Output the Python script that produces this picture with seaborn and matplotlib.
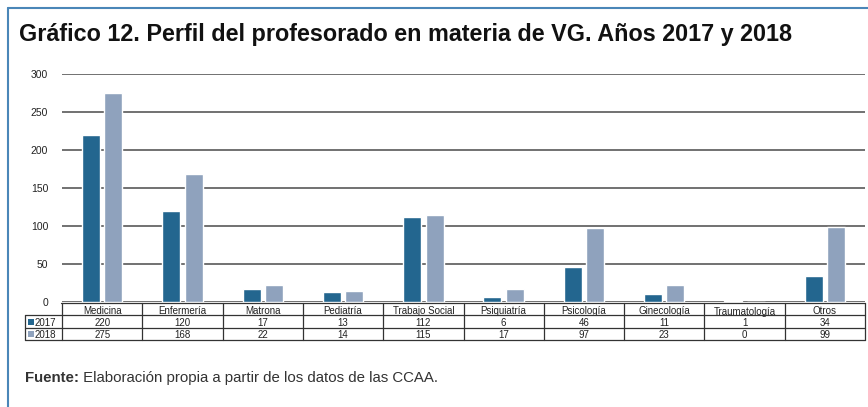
import numpy as np
import pandas as pd
import seaborn as sns
import matplotlib.pyplot as plt
from matplotlib.lines import Line2D
from matplotlib.patches import Rectangle
import matplotlib.transforms as mtransforms

# Data
categorias = ["Medicina", "Enfermería", "Matrona", "Pediatría", "Trabajo Social",
              "Psiquiatría", "Psicología", "Ginecología", "Traumatología", "Otros"]
valores_2017 = [220, 120, 17, 13, 112, 6, 46, 11, 1, 34]
valores_2018 = [275, 168, 22, 14, 115, 17, 97, 23, 0, 99]
anios = ["2017", "2018"]
colores = ["#23668f", "#8fa2bd"]

df = pd.DataFrame({
    "Categoria": categorias * 2,
    "Valor": valores_2017 + valores_2018,
    "Anio": [anios[0]] * len(categorias) + [anios[1]] * len(categorias),
})

sns.set_style("white")
plt.rcParams['font.family'] = ['Liberation Sans', 'DejaVu Sans']

W, H = 868, 407
fig = plt.figure(figsize=(W / 100, H / 100), dpi=100)

def fx(px):
    return px / W

def fy(py):
    return 1 - py / H

# plot area in pixel terms of the reference
ax = fig.add_axes([fx(62), fy(302), fx(865) - fx(62), fy(74) - fy(302)])

sns.barplot(data=df, x="Categoria", y="Valor", hue="Anio", order=categorias,
            hue_order=anios, palette=colores, width=0.56, gap=0.2,
            saturation=1, legend=False, ax=ax)

ax.set_xlim(-0.5, len(categorias) - 0.5)
ax.set_ylim(0, 300)
ax.set_yticks(np.arange(0, 301, 50))
ax.yaxis.grid(True, color="#666666", linewidth=1.3)
ax.set_axisbelow(True)
for s in ax.spines.values():
    s.set_visible(False)
ax.tick_params(axis="y", length=0, pad=10, labelsize=7.5, labelcolor="#222222")
ax.tick_params(axis="x", length=0, labelbottom=False)
ax.set_xlabel("")
ax.set_ylabel("")

# table under the bars: x in data units, y in figure units
tr = mtransforms.blended_transform_factory(ax.transData, fig.transFigure)
filas = [303, 315, 328, 340]
lc = "#333333"
fs_tab = 7.0
n = len(categorias)

# horizontal lines
fig.add_artist(Line2D([fx(61), fx(865)], [fy(filas[0])] * 2, color=lc, lw=0.9))
for yy in filas[1:]:
    fig.add_artist(Line2D([fx(25), fx(865)], [fy(yy)] * 2, color=lc, lw=0.9))
# vertical lines
for i in range(n + 1):
    ax.add_artist(Line2D([i - 0.5, i - 0.5], [fy(filas[0]), fy(filas[3])],
                         transform=tr, color=lc, lw=0.9, clip_on=False))
fig.add_artist(Line2D([fx(25), fx(25)], [fy(filas[1]), fy(filas[3])], color=lc, lw=0.9))

for i, cat in enumerate(categorias):
    yc = fy((filas[0] + filas[1]) / 2 + 0.5)
    if cat == "Traumatología":
        yc = fy((filas[0] + filas[1]) / 2 + 2)
    ax.text(i, yc, cat, transform=tr, ha="center", va="center_baseline",
            fontsize=fs_tab, color="#222222", clip_on=False)
    ax.text(i, fy((filas[1] + filas[2]) / 2 + 0.5), str(valores_2017[i]), transform=tr,
            ha="center", va="center_baseline", fontsize=fs_tab, color="#222222", clip_on=False)
    ax.text(i, fy((filas[2] + filas[3]) / 2 + 0.5), str(valores_2018[i]), transform=tr,
            ha="center", va="center_baseline", fontsize=fs_tab, color="#222222", clip_on=False)

# legend column
for k, (anio, col) in enumerate(zip(anios, colores)):
    yc = (filas[k + 1] + filas[k + 2]) / 2
    fig.add_artist(Rectangle((fx(28), fy(yc + 3)), fx(6), fy(yc - 3) - fy(yc + 3),
                             facecolor=col, edgecolor="none"))
    fig.text(fx(35), fy(yc + 0.5), anio, ha="left", va="center_baseline",
             fontsize=fs_tab, color="#222222")

# blue frame
fig.add_artist(Line2D([fx(8), fx(W)], [fy(8), fy(8)], color="#4a86b8", lw=1.5))
fig.add_artist(Line2D([fx(8), fx(8)], [fy(8), fy(H)], color="#4a86b8", lw=1.5))

# title
fig.text(fx(19), fy(35), "Gráfico 12. Perfil del profesorado en materia de VG. Años 2017 y 2018",
         ha="left", va="center", fontsize=16.8, fontweight="bold", color="#111111")

# footer
t1 = fig.text(fx(25), fy(378), "Fuente:", ha="left", va="center",
              fontsize=10.8, fontweight="bold", color="#333333")
ax.annotate(" Elaboración propia a partir de los datos de las CCAA.",
            xy=(1, 0), xycoords=t1, ha="left", va="bottom",
            fontsize=10.8, color="#333333", annotation_clip=False)

fig.savefig("out.png", dpi=100)
